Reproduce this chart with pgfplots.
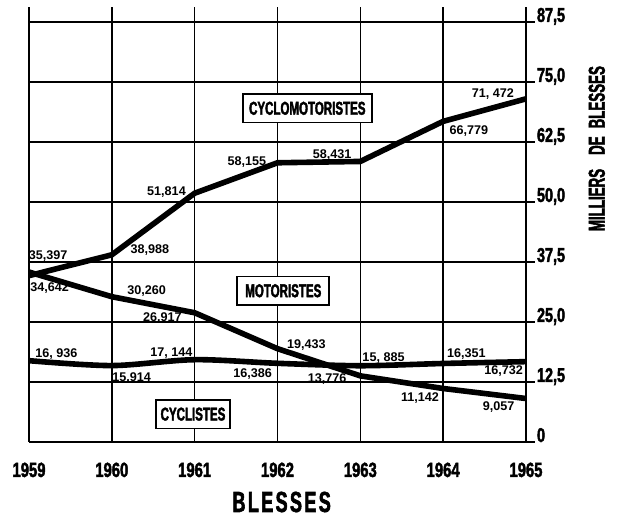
\documentclass[border=0pt]{standalone}
\usepackage{fontspec}
\setmainfont{Liberation Sans}
\newfontfamily\cond[FakeStretch=0.62, FakeBold=2]{Liberation Sans}
\newfontfamily\condt[FakeStretch=0.72, FakeBold=2]{Liberation Sans}
\newfontfamily\condy[FakeStretch=0.58, FakeBold=2]{Liberation Sans}
\usepackage{pgfplots}
\pgfplotsset{compat=1.18}
\tikzset{
  lbl/.style={font=\bfseries\fontsize{6.3}{7}\selectfont, inner sep=0pt},
  box/.style={draw, line width=0.9pt, font=\cond\bfseries\fontsize{9.3}{10}\selectfont, minimum height=14.3pt, inner sep=0pt, fill=white},
}
\begin{document}
\begin{tikzpicture}
\begin{axis}[
  at={(0,0)}, anchor=south west,
  scale only axis,
  width=248.5pt, height=217.5pt,
  xmin=1959, xmax=1965, ymin=0, ymax=90.6,
  axis x line=bottom, axis y line=right,
  axis line style={-, line width=1pt, black},
  xtick={1959,1960,1961,1962,1963,1964,1965},
  xticklabels={1959,1960,1961,1962,1963,1964,1965},
  ytick={0,12.5,25,37.5,50,62.5,75,87.5},
  yticklabels={0,{12,5},{25,0},{37,5},{50,0},{62,5},{75,0},{87,5}},
  grid=major, major grid style={black, line width=0.75pt},
  tick align=outside,
  major tick length=4.5pt,
  xtick style={draw=none},
  ytick style={black, line width=0.75pt},
  xticklabel style={font=\condt\bfseries\fontsize{10.3}{11}\selectfont, anchor=base, yshift=-13pt},
  yticklabel style={font=\condt\bfseries\fontsize{10}{11}\selectfont, anchor=base west, xshift=-2.5pt},
  clip=false,
]
% Cyclomotoristes
\addplot[black, line width=2.8pt, line join=round] coordinates {(1959,34.642)(1960,38.988)(1961,51.814)(1962,58.155)(1963,58.431)(1964,66.779)(1965,71.472)};
% Motoristes
\addplot[black, line width=2.8pt, line join=round] coordinates {(1959,35.397)(1960,30.260)(1961,26.917)(1962,19.433)(1963,13.776)(1964,11.142)(1965,9.057)};
% Cyclistes
\addplot[black, line width=2.8pt, smooth, tension=0.5] coordinates {(1959,16.936)(1960,15.914)(1961,17.144)(1962,16.386)(1963,15.885)(1964,16.351)(1965,16.732)};

\node[lbl] at (axis cs:1959.23,38.75) {35,397};
\node[lbl] at (axis cs:1959.25,32.1) {34,642};
\node[lbl] at (axis cs:1960.46,40.0) {38,988};
\node[lbl] at (axis cs:1960.66,52.1) {51,814};
\node[lbl] at (axis cs:1961.63,58.3) {58,155};
\node[lbl] at (axis cs:1962.66,59.8) {58,431};
\node[lbl] at (axis cs:1964.31,64.8) {66,779};
\node[lbl] at (axis cs:1964.60,72.5) {71, 472};

\node[lbl] at (axis cs:1960.42,31.5) {30,260};
\node[lbl] at (axis cs:1960.61,25.8) {26,917};
\node[lbl] at (axis cs:1962.35,20.2) {19,433};
\node[lbl] at (axis cs:1962.60,13.1) {13,776};
\node[lbl] at (axis cs:1963.72,9.2) {11,142};
\node[lbl] at (axis cs:1964.67,7.3) {9,057};

\node[lbl] at (axis cs:1959.33,18.3) {16, 936};
\node[lbl] at (axis cs:1960.24,13.3) {15,914};
\node[lbl] at (axis cs:1960.72,18.5) {17, 144};
\node[lbl] at (axis cs:1961.70,14.2) {16,386};
\node[lbl] at (axis cs:1963.28,17.5) {15, 885};
\node[lbl] at (axis cs:1964.28,18.3) {16,351};
\node[lbl] at (axis cs:1964.73,14.8) {16,732};

\node[box, minimum width=64.5pt] at (axis cs:1962.36,69.5) {CYCLOMOTORISTES};
\node[box, minimum width=46pt] at (axis cs:1962.07,31.5) {MOTORISTES};
\node[box, minimum width=37pt] at (axis cs:1960.98,5.8) {CYCLISTES};

\node[rotate=90, font=\condy\bfseries\fontsize{11.5}{12}\selectfont, inner sep=0pt] at (axis cs:1965.855,61.1) {MILLIERS\hspace{7pt}DE\hspace{4pt}BLESSES};
\node[font=\cond\bfseries\fontsize{14.5}{16}\selectfont, inner sep=0pt] at (axis cs:1962.05,-12.5) {B\hspace{1.2pt}L\hspace{1.2pt}E\hspace{1.2pt}S\hspace{1.2pt}S\hspace{1.2pt}E\hspace{1.2pt}S};
\end{axis}
\pgfresetboundingbox
\path (-14.5pt,-37.5pt) rectangle (296pt,221pt);
\end{tikzpicture}
\end{document}
